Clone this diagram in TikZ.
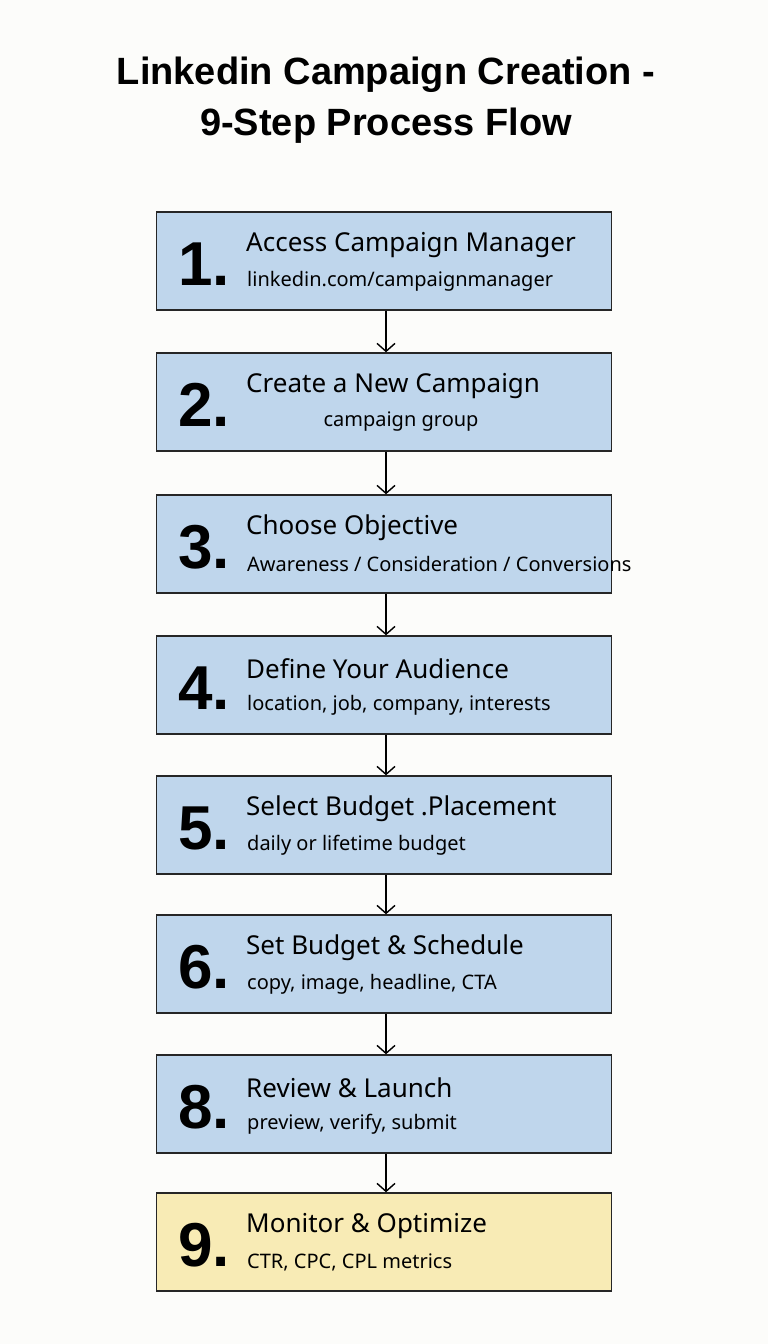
\documentclass[tikz,border=0pt]{standalone}
\usepackage{fontspec}
\setmainfont{Noto Sans}
\newfontfamily\boldfam{Liberation Sans}[BoldFont=* Bold]
\usetikzlibrary{arrows.meta}
\definecolor{bluebox}{HTML}{BFD6EC}
\definecolor{yelbox}{HTML}{F8EBB5}
\definecolor{bg}{HTML}{FCFCFA}
\begin{document}
\begin{tikzpicture}[x=1pt,y=-1pt,
  stepbox/.style={draw=black!85,line width=1.4pt,fill=bluebox,minimum width=455pt,minimum height=98pt,inner sep=0pt},
  numtxt/.style={font=\boldfam\fontsize{62}{62}\selectfont\bfseries,anchor=center},
  headtxt/.style={font=\fontsize{26}{30}\selectfont,anchor=west,inner sep=1pt},
  subtxt/.style={font=\fontsize{20}{24}\selectfont,anchor=west,inner sep=1pt},
  conn/.style={draw=black,line width=1.4pt,-{Straight Barb[length=8pt,width=18pt]}}]
\fill[bg] (0,0) rectangle (768,1344);
\useasboundingbox (0,0) rectangle (768,1344);
\node[font=\boldfam\fontsize{38}{51}\selectfont\bfseries,align=center] (title) at (386,100) {Linkedin Campaign Creation -\\9-Step Process Flow};
\foreach \i/\y/\n/\h/\s/\c in {
 1/261/1./{Access Campaign Manager}/{linkedin.com\slash campaignmanager}/bluebox,
 2/402/2./{Create a New Campaign}/{}/bluebox,
 3/544/3./{Choose Objective}/{Awareness \slash{} Consideration \slash{} Conversions}/bluebox,
 4/685/4./{Define Your Audience}/{location, job, company, interests}/bluebox,
 5/825/5./{Select Budget .Placement}/{daily or lifetime budget}/bluebox,
 6/964/6./{Set Budget \& Schedule}/{copy, image, headline, CTA}/bluebox,
 8/1104/8./{Review \& Launch}/{preview, verify, submit}/bluebox,
 9/1242/9./{Monitor \& Optimize}/{CTR, CPC, CPL metrics}/yelbox}{
  \node[stepbox,fill=\c] (b\i) at (384,\y) {};
  \node[numtxt] (n\i) at (204,\y+3) {\n};
  \node[headtxt] (h\i) at (245,\y-16) {\h};
  \node[subtxt] (s\i) at (246,\y+20) {\s};
}
\node[font=\fontsize{20}{24}\selectfont] (s2b) at (401,422) {campaign group};
\foreach \a/\b in {1/2,2/3,3/4,4/5,5/6,6/8,8/9}{
  \draw[conn] ([xshift=2pt]b\a.south) -- ([xshift=2pt]b\b.north);
}
\end{tikzpicture}
\end{document}
